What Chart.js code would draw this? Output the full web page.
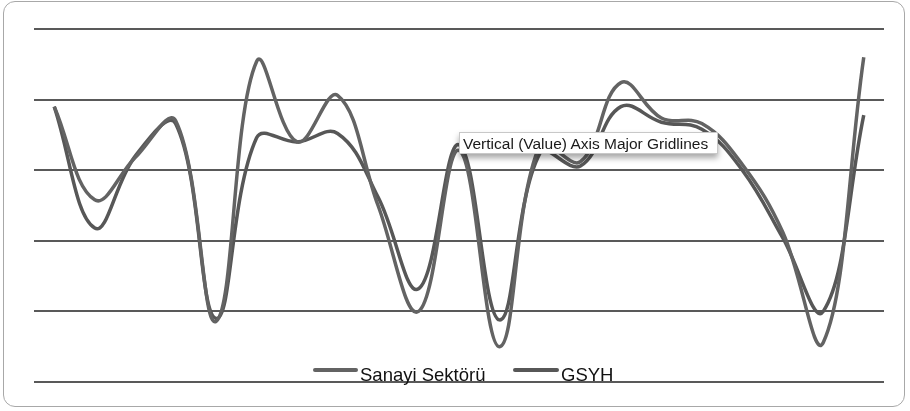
<!DOCTYPE html>
<html>
<head>
<meta charset="utf-8">
<script src="https://cdn.jsdelivr.net/npm/chart.js@4/dist/chart.umd.min.js"></script>
<style>
  html, body { margin: 0; padding: 0; background: #ffffff; }
  #wrap { position: relative; width: 910px; height: 411px; overflow: hidden; background: #fff; }
  #frame { position: absolute; left: 3px; top: 1px; width: 902px; height: 406px; border: 1.5px solid #a8a8a8; border-radius: 12px; box-sizing: border-box; }
  #c { position: absolute; left: 0; top: 0; }
  .leg-line { position: absolute; height: 4px; border-radius: 2px; }
  .leg-text { position: absolute; font-family: "Liberation Sans", Arial, sans-serif; font-size: 18.5px; line-height: 18px; color: #111; white-space: nowrap; }
  #tip { position: absolute; left: 459px; top: 132px; width: 259px; height: 22px; background: #fff; border: 1px solid #c8c8c8; box-shadow: 0 4px 6px rgba(0,0,0,0.35); font-family: "Liberation Sans", Arial, sans-serif; font-size: 15.5px; line-height: 22px; color: #1a1a1a; padding-left: 3px; box-sizing: border-box; white-space: nowrap; }
</style>
</head>
<body>
<div id="wrap">
  <canvas id="c" width="910" height="411"></canvas>
  <div id="frame"></div>
  <div id="legend"></div>
  <div id="tip">Vertical (Value) Axis Major Gridlines</div>
</div>
<script>
// Categories (years) and series values (growth, %)
const years = ['1990','1991','1992','1993','1994','1995','1996','1997','1998','1999','2000',
               '2001','2002','2003','2004','2005','2006','2007','2008','2009','2010'];
const sanayiSektoru = [9.5, 2.9, 5.9, 8.5, -5.7, 12.7, 7.0, 10.3, 2.5, -5.0, 6.4,
                       -7.5, 6.8, 5.6, 11.2, 8.7, 8.3, 5.4, 0.6, -7.2, 13.0];
const gsyh = [9.5, 0.9, 6.0, 8.3, -5.5, 7.3, 7.0, 7.6, 3.1, -3.4, 6.8,
              -5.6, 6.2, 5.3, 9.5, 8.4, 7.9, 5.0, 0.2, -5.0, 8.9];
const seriesNames = ['Sanayi Sektörü', 'GSYH'];
const yTicks = { min: -10, max: 15, step: 5 };

const colors = ['#636363', '#575757'];

const chart = new Chart(document.getElementById('c'), {
  type: 'line',
  data: {
    labels: years,
    datasets: [
      { label: seriesNames[0], data: sanayiSektoru, borderColor: colors[0], backgroundColor: colors[0],
        borderWidth: 3.5, pointRadius: 0, tension: 0.4, fill: false },
      { label: seriesNames[1], data: gsyh, borderColor: colors[1], backgroundColor: colors[1],
        borderWidth: 3.5, pointRadius: 0, tension: 0.4, fill: false }
    ]
  },
  options: {
    responsive: false,
    animation: false,
    devicePixelRatio: 1,
    layout: { padding: { left: 34, right: 26, top: 29, bottom: 29 } },
    plugins: { legend: { display: false }, tooltip: { enabled: false } },
    scales: {
      x: { display: false, offset: true },
      y: {
        min: yTicks.min, max: yTicks.max,
        ticks: { display: false, stepSize: yTicks.step },
        grid: { color: '#595959', lineWidth: 2, drawTicks: false, tickLength: 0 },
        border: { display: false }
      }
    }
  }
});

// HTML legend built from datasets
const legendPos = [{ line: 313, text: 360 }, { line: 513, text: 561 }];
const legend = document.getElementById('legend');
chart.data.datasets.forEach((ds, i) => {
  const ln = document.createElement('div');
  ln.className = 'leg-line';
  ln.style.left = legendPos[i].line + 'px';
  ln.style.width = (legendPos[i].text - legendPos[i].line - 2) + 'px';
  ln.style.top = '368px';
  ln.style.background = ds.borderColor;
  legend.appendChild(ln);
  const tx = document.createElement('div');
  tx.className = 'leg-text';
  tx.style.left = legendPos[i].text + 'px';
  tx.style.top = '366px';
  tx.textContent = ds.label;
  legend.appendChild(tx);
});
</script>
</body>
</html>
